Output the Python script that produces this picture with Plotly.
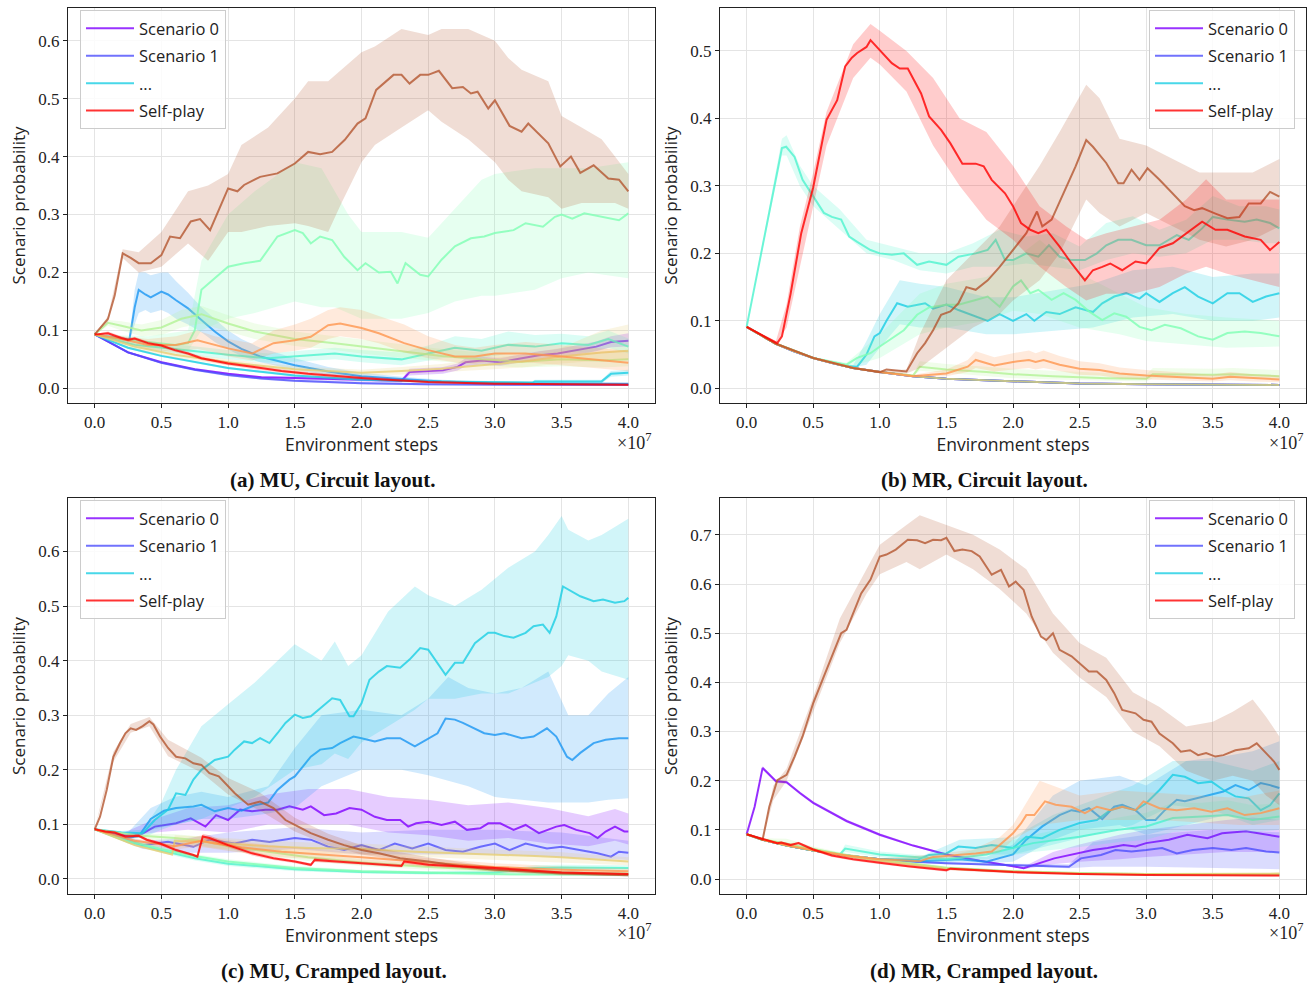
import plotly.graph_objects as go

# ---------------- colours ----------------
SCEN_COLORS = ['#8000ff', '#4d4ffc', '#1a96f3', '#1acee3', '#4df3ce',
               '#80ffb4', '#b3f396', '#e6ce74', '#ff964f', '#b4562f']
SELF_PLAY_COLOR = '#ff0000'

X_TICKS = [0, 0.5, 1.0, 1.5, 2.0, 2.5, 3.0, 3.5, 4.0]
X_TICK_TEXT = ['0.0', '0.5', '1.0', '1.5', '2.0', '2.5', '3.0', '3.5', '4.0']
Y_RANGES = [[-0.0253, 0.6564], [-0.0218, 0.5637], [-0.0275, 0.698], [-0.0305, 0.775]]
CAPTIONS = ['(a) MU, Circuit layout.', '(b) MR, Circuit layout.',
            '(c) MU, Cramped layout.', '(d) MR, Cramped layout.']
LEGEND_NAMES = {0: 'Scenario 0', 1: 'Scenario 1', 3: '...', 'sp': 'Self-play'}

# =============== Panel (a) MU, Circuit ===============
A_S0_X = [0, 0.25, 0.5, 0.75, 1.0, 1.25, 1.5, 1.8, 2.1, 2.3, 2.36, 2.61, 2.72, 2.78, 2.9, 3.04, 3.18, 3.33, 3.47, 3.61, 3.76, 3.87, 4.0]
A_S0_Y = [0.093, 0.062, 0.045, 0.033, 0.025, 0.019, 0.018, 0.016, 0.014, 0.013, 0.028, 0.031, 0.037, 0.045, 0.048, 0.045, 0.051, 0.057, 0.060, 0.066, 0.072, 0.080, 0.082]
A_S0_LO = [0.093, 0.060, 0.043, 0.031, 0.023, 0.017, 0.015, 0.013, 0.011, 0.010, 0.022, 0.025, 0.031, 0.038, 0.041, 0.039, 0.044, 0.050, 0.053, 0.058, 0.064, 0.071, 0.072]
A_S0_HI = [0.093, 0.064, 0.047, 0.035, 0.027, 0.021, 0.021, 0.019, 0.017, 0.016, 0.034, 0.037, 0.043, 0.052, 0.055, 0.052, 0.058, 0.064, 0.068, 0.074, 0.081, 0.090, 0.095]

A_S1_X = [0, 0.25, 0.5, 0.75, 1.0, 1.25, 1.5, 2.0, 2.5, 3.0, 3.5, 4.0]
A_S1_Y = [0.093, 0.062, 0.044, 0.032, 0.023, 0.017, 0.013, 0.009, 0.007, 0.006, 0.006, 0.006]
A_S1_LO = [0.093, 0.060, 0.042, 0.030, 0.021, 0.015, 0.011, 0.007, 0.005, 0.004, 0.004, 0.004]
A_S1_HI = [0.093, 0.064, 0.046, 0.034, 0.025, 0.019, 0.015, 0.011, 0.009, 0.008, 0.008, 0.008]

A_S2_X = [0, 0.1, 0.2, 0.26, 0.3, 0.33, 0.38, 0.42, 0.5, 0.55, 0.61, 0.7, 0.8, 0.9, 1.0, 1.1, 1.24, 1.5, 1.75, 2.0, 2.3, 2.6, 3.0, 3.5, 4.0]
A_S2_Y = [0.093, 0.09, 0.086, 0.084, 0.14, 0.17, 0.162, 0.157, 0.167, 0.162, 0.152, 0.138, 0.118, 0.098, 0.081, 0.068, 0.055, 0.04, 0.029, 0.021, 0.016, 0.012, 0.009, 0.008, 0.008]
A_S2_LO = [0.093, 0.088, 0.083, 0.081, 0.11, 0.13, 0.135, 0.13, 0.135, 0.13, 0.12, 0.11, 0.097, 0.08, 0.067, 0.056, 0.045, 0.032, 0.023, 0.017, 0.013, 0.01, 0.008, 0.007, 0.007]
A_S2_HI = [0.093, 0.092, 0.089, 0.087, 0.17, 0.2, 0.2, 0.195, 0.2, 0.2, 0.185, 0.165, 0.14, 0.12, 0.1, 0.085, 0.07, 0.052, 0.037, 0.027, 0.02, 0.015, 0.011, 0.009, 0.009]

A_S3_X = [0, 0.25, 0.5, 1.0, 1.5, 2.0, 2.5, 3.0, 3.28, 3.3, 3.8, 3.87, 4.0]
A_S3_Y = [0.093, 0.070, 0.056, 0.035, 0.022, 0.015, 0.012, 0.010, 0.010, 0.012, 0.012, 0.025, 0.027]
A_S3_LO = [0.093, 0.068, 0.054, 0.033, 0.020, 0.013, 0.010, 0.008, 0.008, 0.009, 0.009, 0.020, 0.022]
A_S3_HI = [0.093, 0.072, 0.058, 0.037, 0.024, 0.017, 0.014, 0.012, 0.012, 0.015, 0.015, 0.030, 0.032]

A_S4_X = [0, 0.3, 0.6, 1.0, 1.3, 1.5, 1.8, 2.0, 2.3, 2.5, 2.7, 2.9, 3.1, 3.3, 3.5, 3.7, 3.85, 4.0]
A_S4_Y = [0.093, 0.075, 0.068, 0.058, 0.052, 0.055, 0.060, 0.055, 0.050, 0.060, 0.070, 0.065, 0.075, 0.072, 0.078, 0.075, 0.085, 0.072]
A_S4_LO = [0.093, 0.070, 0.060, 0.050, 0.044, 0.046, 0.050, 0.045, 0.040, 0.048, 0.056, 0.052, 0.060, 0.058, 0.064, 0.062, 0.070, 0.060]
A_S4_HI = [0.093, 0.080, 0.076, 0.066, 0.060, 0.064, 0.070, 0.066, 0.062, 0.074, 0.090, 0.085, 0.098, 0.092, 0.094, 0.090, 0.100, 0.086]

A_S5_X = [0, 0.2, 0.4, 0.6, 0.7, 0.75, 0.8, 0.9, 1.0, 1.12, 1.24, 1.37, 1.5, 1.56, 1.62, 1.69, 1.78, 1.87, 1.97, 2.03,
          2.13, 2.22, 2.27, 2.33, 2.44, 2.5, 2.6, 2.7, 2.82, 2.92, 3.0, 3.14, 3.23, 3.36, 3.45, 3.5, 3.58, 3.67, 3.8, 3.93, 4.0]
A_S5_Y = [0.093, 0.085, 0.08, 0.075, 0.078, 0.1, 0.17, 0.19, 0.21, 0.216, 0.22, 0.262, 0.273, 0.268, 0.25, 0.262, 0.256, 0.227, 0.204, 0.216,
          0.2, 0.201, 0.181, 0.216, 0.196, 0.193, 0.222, 0.245, 0.259, 0.262, 0.268, 0.273, 0.285, 0.279, 0.296, 0.3, 0.293, 0.302, 0.296, 0.29, 0.302]
A_S5_BX = [0, 0.4, 0.7, 0.8, 0.9, 1.0, 1.2, 1.5, 1.7, 1.8, 1.9, 2.0, 2.3, 2.5, 2.7, 2.9, 3.0, 3.3, 3.5, 3.7, 4.0]
A_S5_LO = [0.093, 0.07, 0.065, 0.10, 0.11, 0.12, 0.13, 0.15, 0.14, 0.14, 0.13, 0.12, 0.12, 0.13, 0.15, 0.16, 0.16, 0.17, 0.19, 0.20, 0.19]
A_S5_HI = [0.093, 0.09, 0.10, 0.22, 0.26, 0.30, 0.34, 0.39, 0.38, 0.34, 0.30, 0.27, 0.27, 0.26, 0.31, 0.36, 0.37, 0.38, 0.38, 0.38, 0.39]

A_S6_X = [0, 0.1, 0.2, 0.35, 0.5, 0.65, 0.8, 1.0, 1.2, 1.5, 1.8, 2.0, 2.3, 2.6, 2.9, 3.2, 3.5, 3.8, 4.0]
A_S6_Y = [0.093, 0.113, 0.108, 0.100, 0.105, 0.120, 0.128, 0.112, 0.098, 0.085, 0.078, 0.072, 0.064, 0.056, 0.050, 0.046, 0.050, 0.048, 0.050]
A_S6_LO = [0.093, 0.108, 0.100, 0.090, 0.092, 0.105, 0.112, 0.098, 0.085, 0.073, 0.066, 0.060, 0.053, 0.046, 0.040, 0.036, 0.038, 0.036, 0.038]
A_S6_HI = [0.093, 0.118, 0.116, 0.110, 0.118, 0.135, 0.142, 0.126, 0.112, 0.098, 0.090, 0.084, 0.076, 0.068, 0.062, 0.058, 0.064, 0.062, 0.064]

A_S7_X = [0, 0.3, 0.6, 1.0, 1.5, 2.0, 2.3, 2.6, 2.9, 3.2, 3.5, 3.8, 4.0]
A_S7_Y = [0.093, 0.072, 0.058, 0.045, 0.033, 0.027, 0.030, 0.034, 0.040, 0.046, 0.055, 0.062, 0.065]
A_S7_LO = [0.093, 0.068, 0.053, 0.040, 0.028, 0.022, 0.024, 0.027, 0.032, 0.036, 0.043, 0.048, 0.050]
A_S7_HI = [0.093, 0.076, 0.063, 0.050, 0.038, 0.032, 0.037, 0.042, 0.050, 0.058, 0.070, 0.100, 0.110]

A_S8_X = [0, 0.2, 0.4, 0.5, 0.61, 0.77, 0.9, 1.0, 1.18, 1.34, 1.5, 1.62, 1.75, 1.84, 2.0, 2.13, 2.32, 2.5, 2.7, 2.85, 3.0, 3.23, 3.5, 3.77, 4.0]
A_S8_Y = [0.093, 0.085, 0.075, 0.075, 0.075, 0.083, 0.075, 0.069, 0.06, 0.078, 0.083, 0.089, 0.109, 0.112, 0.104, 0.095, 0.078, 0.066, 0.055, 0.055, 0.06, 0.06, 0.055, 0.049, 0.044]
A_S8_LO = [0.093, 0.08, 0.068, 0.065, 0.063, 0.068, 0.062, 0.055, 0.048, 0.06, 0.065, 0.07, 0.085, 0.09, 0.085, 0.078, 0.062, 0.052, 0.045, 0.043, 0.047, 0.045, 0.04, 0.035, 0.03]
A_S8_HI = [0.093, 0.09, 0.085, 0.088, 0.09, 0.1, 0.09, 0.085, 0.078, 0.1, 0.11, 0.12, 0.135, 0.14, 0.135, 0.125, 0.11, 0.09, 0.075, 0.07, 0.075, 0.08, 0.075, 0.07, 0.065]

A_S9_X = [0, 0.1, 0.15, 0.21, 0.27, 0.33, 0.42, 0.5, 0.565, 0.64, 0.72, 0.79, 0.865, 0.96, 1.0, 1.07, 1.12, 1.24, 1.31, 1.37,
          1.5, 1.6, 1.69, 1.78, 1.875, 1.97, 2.03, 2.11, 2.24, 2.3, 2.36, 2.44, 2.5, 2.58, 2.68, 2.76, 2.82, 2.87, 2.95, 3.0,
          3.11, 3.2, 3.25, 3.4, 3.49, 3.57, 3.64, 3.74, 3.85, 3.93, 4.0]
A_S9_Y = [0.093, 0.12, 0.16, 0.233, 0.225, 0.216, 0.216, 0.23, 0.262, 0.259, 0.288, 0.292, 0.273, 0.325, 0.345, 0.34, 0.351, 0.365, 0.368, 0.371,
          0.388, 0.408, 0.404, 0.408, 0.429, 0.457, 0.466, 0.515, 0.541, 0.541, 0.526, 0.541, 0.541, 0.548, 0.518, 0.52, 0.509, 0.512, 0.483, 0.497,
          0.453, 0.443, 0.457, 0.423, 0.383, 0.4, 0.372, 0.385, 0.362, 0.36, 0.34]
A_S9_BX = [0, 0.1, 0.21, 0.33, 0.5, 0.7, 0.85, 1.0, 1.1, 1.3, 1.5, 1.6, 1.75, 1.85, 2.0, 2.1, 2.3, 2.5, 2.6, 2.8, 3.0, 3.1, 3.2, 3.4, 3.5, 3.65, 3.8, 3.9, 4.0]
A_S9_LO = [0.093, 0.115, 0.225, 0.20, 0.21, 0.25, 0.22, 0.27, 0.27, 0.28, 0.285, 0.28, 0.27, 0.32, 0.39, 0.42, 0.45, 0.48, 0.46, 0.43, 0.39, 0.36, 0.34, 0.33, 0.31, 0.32, 0.32, 0.32, 0.31]
A_S9_HI = [0.093, 0.125, 0.24, 0.235, 0.27, 0.34, 0.35, 0.37, 0.42, 0.45, 0.50, 0.53, 0.53, 0.55, 0.58, 0.59, 0.62, 0.61, 0.62, 0.62, 0.60, 0.57, 0.55, 0.53, 0.47, 0.45, 0.43, 0.40, 0.37]

A_SP_X = [0, 0.1, 0.2, 0.25, 0.3, 0.4, 0.5, 0.6, 0.7, 0.8, 1.0, 1.2, 1.4, 1.6, 1.8, 2.0, 2.2, 2.5, 3.0, 3.5, 4.0]
A_SP_Y = [0.093, 0.095, 0.087, 0.084, 0.086, 0.078, 0.074, 0.066, 0.06, 0.052, 0.043, 0.036, 0.03, 0.025, 0.021, 0.018, 0.015, 0.011, 0.008, 0.007, 0.006]
A_SP_LO = [0.093, 0.092, 0.084, 0.081, 0.083, 0.075, 0.071, 0.063, 0.057, 0.049, 0.04, 0.033, 0.027, 0.022, 0.018, 0.015, 0.012, 0.009, 0.006, 0.005, 0.004]
A_SP_HI = [0.093, 0.098, 0.09, 0.087, 0.089, 0.081, 0.077, 0.069, 0.063, 0.055, 0.046, 0.039, 0.033, 0.028, 0.024, 0.021, 0.018, 0.013, 0.01, 0.009, 0.008]

# =============== Panel (b) MR, Circuit ===============
B_BASE_X = [0, 0.22, 0.35, 0.5, 0.65, 0.8, 1.0, 1.25, 1.5, 2.0, 2.5, 3.0, 3.5, 4.0]
B_BASE_Y = [0.091, 0.066, 0.055, 0.045, 0.037, 0.030, 0.024, 0.018, 0.014, 0.010, 0.007, 0.006, 0.005, 0.005]
B_BASE_LO = [0.091, 0.065, 0.054, 0.044, 0.036, 0.029, 0.023, 0.017, 0.013, 0.009, 0.006, 0.005, 0.004, 0.004]
B_BASE_HI = [0.091, 0.067, 0.056, 0.046, 0.038, 0.031, 0.025, 0.019, 0.015, 0.011, 0.008, 0.007, 0.006, 0.006]

B_S3_X = [0, 0.22, 0.5, 0.75, 0.83, 0.9, 0.96, 1.0, 1.05, 1.13, 1.21, 1.34, 1.4, 1.5, 1.59, 1.72, 1.81, 1.9, 2.0, 2.1,
          2.16, 2.25, 2.35, 2.47, 2.6, 2.67, 2.76, 2.85, 2.95, 3.0, 3.1, 3.2, 3.29, 3.39, 3.5, 3.61, 3.7, 3.8, 3.9, 4.0]
B_S3_Y = [0.091, 0.066, 0.045, 0.033, 0.032, 0.05, 0.077, 0.082, 0.10, 0.126, 0.121, 0.126, 0.118, 0.124, 0.116, 0.106, 0.10, 0.11, 0.10, 0.11,
          0.10, 0.113, 0.11, 0.12, 0.113, 0.126, 0.136, 0.141, 0.133, 0.141, 0.128, 0.141, 0.15, 0.136, 0.126, 0.141, 0.141, 0.128, 0.136, 0.141]
B_S3_BX = [0, 0.22, 0.5, 0.8, 0.9, 1.0, 1.15, 1.3, 1.5, 1.8, 2.0, 2.3, 2.6, 2.9, 3.2, 3.5, 3.8, 4.0]
B_S3_LO = [0.091, 0.065, 0.044, 0.031, 0.035, 0.06, 0.095, 0.09, 0.09, 0.08, 0.08, 0.085, 0.09, 0.105, 0.11, 0.10, 0.10, 0.105]
B_S3_HI = [0.091, 0.067, 0.046, 0.034, 0.07, 0.11, 0.16, 0.155, 0.15, 0.135, 0.135, 0.145, 0.155, 0.175, 0.18, 0.165, 0.17, 0.17]

B_S4_X = [0, 0.265, 0.297, 0.36, 0.42, 0.5, 0.58, 0.64, 0.71, 0.77, 0.83, 0.93, 1.0, 1.09, 1.18, 1.28, 1.37, 1.5, 1.59, 1.72,
          1.81, 1.87, 1.94, 2.0, 2.1, 2.19, 2.27, 2.35, 2.44, 2.54, 2.63, 2.7, 2.79, 2.89, 3.0, 3.1, 3.23, 3.32, 3.42, 3.5,
          3.61, 3.74, 3.83, 3.93, 4.0]
B_S4_Y = [0.091, 0.356, 0.358, 0.343, 0.309, 0.284, 0.26, 0.254, 0.25, 0.225, 0.217, 0.205, 0.2, 0.198, 0.2, 0.183, 0.188, 0.183, 0.195, 0.2,
          0.205, 0.22, 0.19, 0.19, 0.2, 0.195, 0.212, 0.195, 0.19, 0.19, 0.2, 0.212, 0.22, 0.22, 0.212, 0.212, 0.227, 0.22, 0.237, 0.254,
          0.25, 0.247, 0.25, 0.245, 0.237]
B_S4_BX = [0, 0.265, 0.3, 0.4, 0.5, 0.7, 0.9, 1.1, 1.3, 1.5, 1.7, 1.9, 2.1, 2.3, 2.5, 2.7, 2.9, 3.1, 3.3, 3.5, 3.7, 3.9, 4.0]
B_S4_LO = [0.091, 0.345, 0.345, 0.30, 0.27, 0.235, 0.20, 0.19, 0.175, 0.17, 0.18, 0.18, 0.185, 0.18, 0.175, 0.19, 0.20, 0.195, 0.20, 0.22, 0.22, 0.215, 0.215]
B_S4_HI = [0.091, 0.37, 0.375, 0.33, 0.30, 0.265, 0.22, 0.21, 0.20, 0.20, 0.215, 0.235, 0.225, 0.23, 0.21, 0.245, 0.255, 0.235, 0.25, 0.285, 0.27, 0.27, 0.265]

B_S5_X = [0, 0.22, 0.5, 0.75, 0.83, 0.93, 1.0, 1.09, 1.18, 1.28, 1.37, 1.5, 1.59, 1.72, 1.81, 1.9, 2.0, 2.06, 2.13, 2.19,
          2.29, 2.38, 2.47, 2.57, 2.67, 2.76, 2.85, 2.95, 3.04, 3.14, 3.26, 3.39, 3.5, 3.61, 3.74, 3.86, 4.0]
B_S5_Y = [0.091, 0.066, 0.045, 0.035, 0.045, 0.052, 0.062, 0.074, 0.086, 0.109, 0.12, 0.124, 0.124, 0.131, 0.136, 0.121, 0.151, 0.16, 0.141, 0.146,
          0.131, 0.141, 0.131, 0.114, 0.101, 0.111, 0.106, 0.091, 0.086, 0.094, 0.089, 0.077, 0.072, 0.082, 0.084, 0.082, 0.077]
B_S5_BX = [0, 0.22, 0.5, 0.75, 1.0, 1.3, 1.5, 1.8, 2.0, 2.2, 2.5, 2.8, 3.0, 3.3, 3.6, 4.0]
B_S5_LO = [0.091, 0.065, 0.044, 0.031, 0.045, 0.08, 0.09, 0.1, 0.115, 0.11, 0.09, 0.08, 0.07, 0.065, 0.06, 0.062]
B_S5_HI = [0.091, 0.067, 0.046, 0.038, 0.08, 0.14, 0.155, 0.165, 0.19, 0.22, 0.17, 0.14, 0.12, 0.11, 0.105, 0.1]

B_S6_X = [0, 0.22, 0.5, 0.8, 1.0, 1.25, 1.3, 1.5, 1.8, 2.0, 2.3, 2.7, 3.0, 3.05, 3.5, 3.65, 4.0]
B_S6_Y = [0.091, 0.066, 0.045, 0.030, 0.024, 0.019, 0.032, 0.028, 0.024, 0.021, 0.018, 0.015, 0.014, 0.021, 0.02, 0.021, 0.018]
B_S6_LO = [0.091, 0.065, 0.044, 0.029, 0.023, 0.018, 0.026, 0.022, 0.018, 0.015, 0.013, 0.011, 0.01, 0.015, 0.014, 0.015, 0.013]
B_S6_HI = [0.091, 0.067, 0.046, 0.031, 0.025, 0.021, 0.04, 0.036, 0.032, 0.029, 0.026, 0.022, 0.02, 0.03, 0.029, 0.03, 0.027]

B_S8_X = [0, 0.22, 0.5, 0.8, 1.0, 1.25, 1.5, 1.66, 1.72, 1.86, 2.0, 2.12, 2.17, 2.23, 2.35, 2.5, 2.65, 2.8, 3.0, 3.25, 3.5, 3.63, 3.8, 4.0]
B_S8_Y = [0.091, 0.066, 0.045, 0.030, 0.024, 0.018, 0.022, 0.032, 0.042, 0.034, 0.039, 0.042, 0.039, 0.042, 0.035, 0.029, 0.027, 0.022, 0.019, 0.016, 0.014, 0.017, 0.015, 0.013]
B_S8_LO = [0.091, 0.065, 0.044, 0.029, 0.023, 0.017, 0.018, 0.024, 0.03, 0.025, 0.028, 0.03, 0.028, 0.03, 0.025, 0.02, 0.019, 0.015, 0.013, 0.011, 0.01, 0.012, 0.01, 0.009]
B_S8_HI = [0.091, 0.067, 0.046, 0.031, 0.025, 0.02, 0.028, 0.042, 0.055, 0.046, 0.052, 0.056, 0.052, 0.056, 0.048, 0.04, 0.037, 0.031, 0.027, 0.023, 0.02, 0.024, 0.021, 0.019]

B_S9_X = [0, 0.22, 0.5, 0.8, 1.0, 1.05, 1.2, 1.28, 1.34, 1.4, 1.46, 1.53, 1.59, 1.65, 1.72, 1.81, 1.9, 2.0, 2.1, 2.18,
          2.22, 2.29, 2.38, 2.47, 2.55, 2.6, 2.7, 2.79, 2.83, 2.89, 2.95, 3.01, 3.1, 3.2, 3.29, 3.36, 3.42, 3.52, 3.61, 3.7,
          3.77, 3.86, 3.93, 4.0]
B_S9_Y = [0.091, 0.066, 0.045, 0.030, 0.024, 0.028, 0.025, 0.052, 0.067, 0.086, 0.109, 0.114, 0.126, 0.15, 0.146, 0.16, 0.18, 0.205, 0.23, 0.262,
          0.24, 0.25, 0.289, 0.329, 0.368, 0.358, 0.334, 0.304, 0.304, 0.324, 0.309, 0.326, 0.309, 0.289, 0.27, 0.264, 0.267, 0.259, 0.252, 0.254,
          0.274, 0.274, 0.291, 0.284]
B_S9_BX = [0, 0.22, 0.5, 0.8, 1.0, 1.2, 1.3, 1.4, 1.5, 1.7, 1.9, 2.0, 2.2, 2.35, 2.55, 2.65, 2.8, 3.0, 3.2, 3.4, 3.6, 3.8, 4.0]
B_S9_LO = [0.091, 0.065, 0.044, 0.029, 0.022, 0.022, 0.03, 0.045, 0.06, 0.09, 0.11, 0.13, 0.16, 0.2, 0.28, 0.26, 0.24, 0.26, 0.24, 0.22, 0.21, 0.22, 0.24]
B_S9_HI = [0.091, 0.067, 0.046, 0.031, 0.026, 0.028, 0.08, 0.12, 0.16, 0.2, 0.24, 0.27, 0.33, 0.38, 0.45, 0.43, 0.37, 0.36, 0.34, 0.32, 0.32, 0.32, 0.34]

B_SP_X = [0, 0.23, 0.265, 0.33, 0.41, 0.5, 0.6, 0.68, 0.74, 0.79, 0.83, 0.9, 0.93, 1.0, 1.09, 1.15, 1.21, 1.31, 1.37, 1.46,
          1.53, 1.62, 1.72, 1.78, 1.84, 1.94, 2.0, 2.06, 2.13, 2.19, 2.25, 2.35, 2.44, 2.54, 2.6, 2.67, 2.73, 2.82, 2.92, 3.0,
          3.1, 3.2, 3.3, 3.42, 3.52, 3.61, 3.74, 3.86, 3.93, 4.0]
B_SP_Y = [0.091, 0.067, 0.077, 0.14, 0.23, 0.298, 0.398, 0.427, 0.477, 0.49, 0.497, 0.506, 0.516, 0.501, 0.482, 0.474, 0.474, 0.437, 0.403, 0.383,
          0.363, 0.333, 0.333, 0.329, 0.309, 0.289, 0.27, 0.245, 0.235, 0.23, 0.235, 0.21, 0.185, 0.16, 0.175, 0.18, 0.185, 0.175, 0.188, 0.185,
          0.208, 0.215, 0.23, 0.247, 0.235, 0.235, 0.225, 0.22, 0.205, 0.217]
B_SP_BX = [0, 0.22, 0.3, 0.4, 0.5, 0.6, 0.7, 0.8, 0.93, 1.0, 1.2, 1.4, 1.6, 1.8, 2.0, 2.2, 2.4, 2.55, 2.7, 2.9, 3.1, 3.3, 3.45, 3.6, 3.8, 4.0]
B_SP_LO = [0.091, 0.065, 0.09, 0.18, 0.27, 0.36, 0.41, 0.46, 0.49, 0.48, 0.44, 0.36, 0.3, 0.25, 0.22, 0.18, 0.15, 0.13, 0.14, 0.14, 0.15, 0.17, 0.18, 0.17, 0.16, 0.15]
B_SP_HI = [0.091, 0.07, 0.125, 0.24, 0.32, 0.41, 0.46, 0.51, 0.54, 0.53, 0.50, 0.46, 0.40, 0.38, 0.33, 0.27, 0.24, 0.22, 0.23, 0.24, 0.25, 0.28, 0.31, 0.28, 0.28, 0.28]

# =============== Panel (c) MU, Cramped ===============
C_S0_X = [0, 0.2, 0.35, 0.45, 0.61, 0.72, 0.83, 0.91, 1.0, 1.09, 1.18, 1.28, 1.37, 1.46, 1.56, 1.62, 1.72, 1.81, 1.91, 2.0,
          2.1, 2.19, 2.29, 2.35, 2.41, 2.5, 2.6, 2.7, 2.79, 2.89, 2.95, 3.04, 3.14, 3.23, 3.33, 3.39, 3.46, 3.52, 3.61, 3.71,
          3.77, 3.83, 3.9, 3.97, 4.0]
C_S0_Y = [0.091, 0.08, 0.082, 0.096, 0.102, 0.111, 0.096, 0.117, 0.108, 0.127, 0.124, 0.127, 0.127, 0.133, 0.127, 0.133, 0.117, 0.12, 0.13, 0.127,
          0.114, 0.108, 0.108, 0.096, 0.102, 0.105, 0.099, 0.105, 0.09, 0.093, 0.102, 0.102, 0.09, 0.099, 0.084, 0.09, 0.096, 0.099, 0.09, 0.084,
          0.075, 0.087, 0.096, 0.087, 0.087]
C_S0_BX = [0, 0.2, 0.45, 0.7, 1.0, 1.3, 1.6, 1.9, 2.2, 2.5, 2.8, 3.1, 3.4, 3.7, 3.9, 4.0]
C_S0_LO = [0.091, 0.077, 0.085, 0.09, 0.085, 0.1, 0.1, 0.1, 0.085, 0.08, 0.07, 0.075, 0.065, 0.06, 0.07, 0.063]
C_S0_HI = [0.091, 0.083, 0.11, 0.13, 0.135, 0.155, 0.165, 0.165, 0.15, 0.145, 0.135, 0.14, 0.13, 0.115, 0.128, 0.12]

C_S1_X = [0, 0.2, 0.36, 0.55, 0.74, 0.86, 1.05, 1.18, 1.31, 1.5, 1.62, 1.75, 1.87, 2.0, 2.13, 2.25, 2.38, 2.5, 2.63, 2.76,
          2.89, 3.0, 3.11, 3.23, 3.39, 3.5, 3.64, 3.77, 3.87, 3.93, 4.0]
C_S1_Y = [0.091, 0.075, 0.062, 0.068, 0.059, 0.072, 0.065, 0.072, 0.068, 0.075, 0.072, 0.059, 0.053, 0.062, 0.053, 0.065, 0.056, 0.065, 0.053, 0.05,
          0.059, 0.065, 0.053, 0.065, 0.056, 0.059, 0.053, 0.047, 0.041, 0.05, 0.048]
C_S1_BX = [0, 0.36, 0.7, 1.0, 1.5, 2.0, 2.5, 3.0, 3.5, 4.0]
C_S1_LO = [0.091, 0.055, 0.048, 0.048, 0.055, 0.045, 0.045, 0.045, 0.04, 0.035]
C_S1_HI = [0.091, 0.07, 0.075, 0.085, 0.095, 0.085, 0.09, 0.09, 0.085, 0.07]

C_S2_X = [0, 0.23, 0.33, 0.42, 0.52, 0.61, 0.74, 0.8, 0.9, 1.0, 1.1, 1.2, 1.3, 1.37, 1.46, 1.5, 1.56, 1.62, 1.69, 1.78,
          1.84, 1.94, 2.0, 2.1, 2.19, 2.29, 2.4, 2.48, 2.57, 2.63, 2.7, 2.76, 2.85, 2.92, 3.0, 3.07, 3.2, 3.29, 3.39, 3.46,
          3.54, 3.58, 3.64, 3.74, 3.83, 3.93, 4.0]
C_S2_Y = [0.091, 0.075, 0.078, 0.11, 0.125, 0.13, 0.133, 0.136, 0.124, 0.13, 0.125, 0.135, 0.14, 0.163, 0.182, 0.188, 0.206, 0.224, 0.237, 0.24,
          0.249, 0.261, 0.258, 0.252, 0.258, 0.258, 0.243, 0.255, 0.267, 0.294, 0.292, 0.286, 0.276, 0.267, 0.264, 0.267, 0.258, 0.261, 0.276, 0.261,
          0.224, 0.218, 0.231, 0.249, 0.255, 0.258, 0.258]
C_S2_BX = [0, 0.23, 0.42, 0.6, 0.8, 1.0, 1.3, 1.5, 1.7, 2.0, 2.3, 2.5, 2.65, 2.8, 3.0, 3.2, 3.4, 3.55, 3.7, 3.85, 4.0]
C_S2_LO = [0.091, 0.07, 0.09, 0.1, 0.11, 0.11, 0.12, 0.13, 0.17, 0.2, 0.2, 0.19, 0.18, 0.17, 0.15, 0.145, 0.14, 0.14, 0.14, 0.145, 0.148]
C_S2_HI = [0.091, 0.08, 0.13, 0.15, 0.16, 0.15, 0.17, 0.24, 0.30, 0.31, 0.30, 0.33, 0.37, 0.35, 0.34, 0.35, 0.38, 0.30, 0.30, 0.34, 0.37]

C_S3_X = [0, 0.2, 0.36, 0.45, 0.55, 0.61, 0.68, 0.74, 0.8, 0.9, 1.0, 1.05, 1.12, 1.18, 1.24, 1.31, 1.37, 1.43, 1.5, 1.56,
          1.62, 1.69, 1.78, 1.84, 1.91, 1.94, 2.0, 2.06, 2.13, 2.19, 2.29, 2.36, 2.44, 2.5, 2.57, 2.63, 2.7, 2.76, 2.85, 2.95,
          3.0, 3.07, 3.14, 3.23, 3.29, 3.36, 3.41, 3.46, 3.51, 3.55, 3.64, 3.74, 3.81, 3.9, 3.97, 4.0]
C_S3_Y = [0.091, 0.085, 0.084, 0.108, 0.127, 0.157, 0.154, 0.182, 0.2, 0.218, 0.224, 0.237, 0.252, 0.249, 0.258, 0.249, 0.267, 0.286, 0.301, 0.295,
          0.298, 0.313, 0.331, 0.328, 0.298, 0.298, 0.322, 0.365, 0.38, 0.39, 0.387, 0.402, 0.423, 0.42, 0.396, 0.374, 0.396, 0.396, 0.432, 0.451,
          0.451, 0.445, 0.442, 0.451, 0.463, 0.466, 0.451, 0.481, 0.536, 0.53, 0.518, 0.509, 0.512, 0.506, 0.509, 0.515]
C_S3_BX = [0, 0.2, 0.36, 0.5, 0.61, 0.8, 1.0, 1.2, 1.5, 1.7, 1.8, 1.9, 2.0, 2.2, 2.4, 2.5, 2.7, 2.9, 3.1, 3.3, 3.4, 3.5, 3.55, 3.7, 3.8, 4.0]
C_S3_LO = [0.091, 0.083, 0.075, 0.09, 0.10, 0.11, 0.13, 0.15, 0.2, 0.21, 0.23, 0.22, 0.25, 0.28, 0.31, 0.33, 0.33, 0.34, 0.34, 0.36, 0.37, 0.39, 0.41, 0.40, 0.38, 0.365]
C_S3_HI = [0.091, 0.088, 0.09, 0.14, 0.2, 0.28, 0.32, 0.36, 0.43, 0.40, 0.435, 0.39, 0.41, 0.49, 0.536, 0.52, 0.50, 0.53, 0.57, 0.60, 0.63, 0.665, 0.64, 0.62, 0.63, 0.66]

C_S4_X = [0, 0.25, 0.5, 0.75, 1.0, 1.5, 2.0, 2.5, 3.0, 3.3, 3.5, 4.0]
C_S4_Y = [0.091, 0.068, 0.052, 0.038, 0.028, 0.018, 0.013, 0.011, 0.012, 0.02, 0.021, 0.02]
C_S4_LO = [0.091, 0.065, 0.048, 0.034, 0.024, 0.014, 0.01, 0.008, 0.009, 0.015, 0.016, 0.015]
C_S4_HI = [0.091, 0.071, 0.056, 0.042, 0.032, 0.022, 0.016, 0.014, 0.015, 0.025, 0.026, 0.025]

C_S5_X = [0, 0.25, 0.5, 0.75, 1.0, 1.5, 2.0, 2.5, 3.0, 3.5, 4.0]
C_S5_Y = [0.091, 0.07, 0.055, 0.042, 0.032, 0.02, 0.014, 0.011, 0.009, 0.008, 0.008]
C_S5_LO = [0.091, 0.067, 0.051, 0.038, 0.028, 0.016, 0.011, 0.008, 0.006, 0.005, 0.005]
C_S5_HI = [0.091, 0.073, 0.059, 0.046, 0.036, 0.024, 0.017, 0.014, 0.012, 0.011, 0.011]

C_S6_X = [0, 0.3, 0.6, 0.8, 1.0, 1.3, 1.6, 2.0, 2.5, 3.0, 3.5, 4.0]
C_S6_Y = [0.091, 0.08, 0.075, 0.07, 0.06, 0.05, 0.04, 0.03, 0.022, 0.016, 0.012, 0.01]
C_S6_LO = [0.091, 0.076, 0.068, 0.062, 0.052, 0.042, 0.033, 0.024, 0.017, 0.012, 0.009, 0.007]
C_S6_HI = [0.091, 0.084, 0.082, 0.078, 0.068, 0.058, 0.047, 0.036, 0.027, 0.02, 0.015, 0.013]

C_S7_X = [0, 0.3, 0.58, 0.6, 0.8, 1.0, 1.3, 1.6, 2.0, 2.4, 2.8, 3.0, 3.3, 3.5, 3.8, 4.0]
C_S7_Y = [0.091, 0.062, 0.045, 0.07, 0.068, 0.065, 0.06, 0.057, 0.055, 0.05, 0.047, 0.045, 0.042, 0.04, 0.035, 0.032]
C_S7_LO = [0.091, 0.06, 0.043, 0.06, 0.058, 0.055, 0.05, 0.047, 0.045, 0.041, 0.038, 0.036, 0.033, 0.031, 0.027, 0.025]
C_S7_HI = [0.091, 0.064, 0.047, 0.08, 0.078, 0.075, 0.07, 0.067, 0.065, 0.06, 0.056, 0.054, 0.051, 0.049, 0.043, 0.04]

C_S8_X = [0, 0.3, 0.6, 0.8, 0.9, 1.1, 1.4, 1.7, 2.0, 2.5, 3.0, 3.5, 4.0]
C_S8_Y = [0.091, 0.07, 0.06, 0.07, 0.065, 0.058, 0.05, 0.045, 0.04, 0.03, 0.022, 0.017, 0.014]
C_S8_LO = [0.091, 0.066, 0.054, 0.06, 0.055, 0.048, 0.04, 0.035, 0.031, 0.022, 0.015, 0.011, 0.009]
C_S8_HI = [0.091, 0.074, 0.066, 0.08, 0.075, 0.068, 0.06, 0.055, 0.049, 0.038, 0.029, 0.023, 0.019]

C_S9_X = [0, 0.04, 0.09, 0.14, 0.19, 0.23, 0.27, 0.31, 0.36, 0.41, 0.44, 0.49, 0.55, 0.61, 0.68, 0.74, 0.8, 0.86, 0.93, 1.0,
          1.05, 1.15, 1.24, 1.34, 1.43, 1.5, 1.62, 1.75, 1.87, 2.0, 2.13, 2.29, 2.5, 2.76, 3.0, 3.5, 4.0]
C_S9_Y = [0.091, 0.114, 0.163, 0.224, 0.249, 0.267, 0.276, 0.273, 0.28, 0.289, 0.283, 0.261, 0.24, 0.224, 0.221, 0.212, 0.209, 0.194, 0.188, 0.169,
          0.157, 0.136, 0.142, 0.13, 0.108, 0.099, 0.084, 0.072, 0.062, 0.053, 0.047, 0.038, 0.032, 0.023, 0.017, 0.010, 0.007]
C_S9_BX = [0, 0.14, 0.27, 0.41, 0.55, 0.8, 1.0, 1.24, 1.5, 1.75, 2.0, 2.5, 3.0, 3.5, 4.0]
C_S9_LO = [0.091, 0.215, 0.268, 0.28, 0.225, 0.195, 0.155, 0.125, 0.087, 0.062, 0.045, 0.026, 0.013, 0.007, 0.005]
C_S9_HI = [0.091, 0.233, 0.284, 0.297, 0.255, 0.222, 0.185, 0.158, 0.112, 0.083, 0.062, 0.04, 0.022, 0.014, 0.01]

C_SP_X = [0, 0.08, 0.15, 0.23, 0.33, 0.39, 0.49, 0.61, 0.74, 0.77, 0.81, 0.86, 1.0, 1.18, 1.34, 1.5, 1.62, 1.65, 1.81, 2.0,
          2.3, 2.32, 2.5, 2.76, 3.0, 3.5, 4.0]
C_SP_Y = [0.091, 0.087, 0.085, 0.078, 0.079, 0.072, 0.065, 0.053, 0.044, 0.041, 0.078, 0.075, 0.062, 0.047, 0.038, 0.032, 0.026, 0.035, 0.032, 0.029,
          0.024, 0.032, 0.026, 0.023, 0.02, 0.012, 0.009]
C_SP_LO = [0.091, 0.084, 0.082, 0.075, 0.076, 0.069, 0.062, 0.05, 0.041, 0.038, 0.072, 0.07, 0.058, 0.043, 0.035, 0.029, 0.023, 0.031, 0.029, 0.026,
           0.021, 0.028, 0.023, 0.02, 0.017, 0.01, 0.007]
C_SP_HI = [0.091, 0.09, 0.088, 0.081, 0.082, 0.075, 0.068, 0.056, 0.047, 0.044, 0.083, 0.08, 0.066, 0.051, 0.041, 0.035, 0.029, 0.039, 0.035, 0.032,
           0.027, 0.036, 0.029, 0.026, 0.023, 0.014, 0.011]

# =============== Panel (d) MR, Cramped ===============
D_S0_X = [0, 0.06, 0.12, 0.22, 0.3, 0.4, 0.5, 0.75, 1.0, 1.25, 1.5, 1.75, 2.0, 2.08, 2.31, 2.49, 2.6, 2.71, 2.83, 2.92,
          3.0, 3.17, 3.31, 3.46, 3.57, 3.75, 3.9, 4.0]
D_S0_Y = [0.091, 0.147, 0.226, 0.199, 0.197, 0.175, 0.155, 0.118, 0.09, 0.068, 0.05, 0.037, 0.026, 0.022, 0.042, 0.052, 0.059, 0.063, 0.069, 0.066,
          0.073, 0.08, 0.09, 0.083, 0.093, 0.097, 0.09, 0.086]
D_S0_BX = [0, 0.06, 0.12, 0.22, 0.3, 0.4, 0.5, 0.75, 1.0, 1.25, 1.5, 1.75, 2.0, 2.08, 2.3, 2.5, 2.8, 3.0, 3.3, 3.6, 3.8, 4.0]
D_S0_LO = [0.091, 0.144, 0.222, 0.196, 0.194, 0.172, 0.152, 0.115, 0.087, 0.066, 0.048, 0.035, 0.024, 0.02, 0.03, 0.035, 0.04, 0.045, 0.05, 0.055, 0.055, 0.055]
D_S0_HI = [0.091, 0.15, 0.23, 0.202, 0.2, 0.178, 0.158, 0.121, 0.093, 0.07, 0.052, 0.039, 0.028, 0.025, 0.055, 0.07, 0.09, 0.1, 0.11, 0.12, 0.125, 0.12]

D_S1_X = [0, 0.12, 0.3, 0.5, 0.75, 1.0, 1.25, 1.5, 2.0, 2.42, 2.51, 2.66, 2.77, 2.89, 3.0, 3.12, 3.23, 3.35, 3.5, 3.64, 3.75, 3.9, 4.0]
D_S1_Y = [0.091, 0.08, 0.068, 0.058, 0.048, 0.04, 0.035, 0.032, 0.028, 0.025, 0.042, 0.049, 0.059, 0.056, 0.059, 0.063, 0.052, 0.059, 0.063, 0.059, 0.063, 0.056, 0.054]
D_S1_BX = [0, 0.12, 0.3, 0.5, 0.75, 1.0, 1.5, 2.0, 2.42, 2.6, 3.0, 3.5, 4.0]
D_S1_LO = [0.091, 0.078, 0.066, 0.056, 0.046, 0.038, 0.03, 0.026, 0.022, 0.025, 0.025, 0.022, 0.02]
D_S1_HI = [0.091, 0.082, 0.07, 0.06, 0.05, 0.042, 0.035, 0.031, 0.03, 0.075, 0.09, 0.1, 0.095]

D_S2_X = [0, 0.12, 0.3, 0.5, 0.75, 1.0, 1.3, 1.6, 1.8, 2.0, 2.1, 2.22, 2.35, 2.44, 2.5, 2.57, 2.67, 2.76, 2.82, 2.92,
          3.0, 3.07, 3.14, 3.23, 3.29, 3.39, 3.49, 3.58, 3.67, 3.77, 3.86, 3.93, 4.0]
D_S2_Y = [0.091, 0.08, 0.068, 0.058, 0.048, 0.04, 0.036, 0.04, 0.035, 0.05, 0.08, 0.107, 0.13, 0.14, 0.137, 0.144, 0.122, 0.147, 0.151, 0.14,
          0.12, 0.12, 0.14, 0.161, 0.158, 0.165, 0.171, 0.178, 0.191, 0.181, 0.195, 0.191, 0.185]
D_S2_BX = [0, 0.12, 0.3, 0.5, 0.75, 1.0, 1.3, 1.6, 1.8, 2.0, 2.3, 2.5, 2.8, 3.0, 3.3, 3.6, 3.8, 4.0]
D_S2_LO = [0.091, 0.078, 0.066, 0.056, 0.046, 0.038, 0.033, 0.035, 0.032, 0.035, 0.08, 0.1, 0.11, 0.09, 0.11, 0.13, 0.12, 0.12]
D_S2_HI = [0.091, 0.082, 0.07, 0.06, 0.05, 0.042, 0.04, 0.048, 0.045, 0.07, 0.17, 0.2, 0.21, 0.19, 0.24, 0.25, 0.26, 0.28]

D_S3_X = [0, 0.12, 0.3, 0.5, 0.75, 1.0, 1.28, 1.37, 1.5, 1.59, 1.72, 1.84, 2.0, 2.1, 2.22, 2.35, 2.5, 2.63, 2.73, 2.82,
          2.92, 3.0, 3.1, 3.2, 3.29, 3.39, 3.49, 3.58, 3.67, 3.77, 3.86, 3.93, 4.0]
D_S3_Y = [0.091, 0.08, 0.068, 0.058, 0.048, 0.04, 0.039, 0.049, 0.052, 0.066, 0.063, 0.069, 0.063, 0.086, 0.083, 0.1, 0.114, 0.12, 0.14, 0.147,
          0.14, 0.154, 0.181, 0.212, 0.208, 0.195, 0.198, 0.181, 0.168, 0.164, 0.14, 0.15, 0.174]
D_S3_BX = [0, 0.12, 0.3, 0.5, 0.75, 1.0, 1.3, 1.6, 2.0, 2.3, 2.6, 2.9, 3.2, 3.5, 3.8, 4.0]
D_S3_LO = [0.091, 0.078, 0.066, 0.056, 0.046, 0.038, 0.035, 0.05, 0.05, 0.07, 0.09, 0.11, 0.15, 0.14, 0.11, 0.12]
D_S3_HI = [0.091, 0.082, 0.07, 0.06, 0.05, 0.042, 0.045, 0.08, 0.085, 0.13, 0.16, 0.19, 0.24, 0.24, 0.22, 0.24]

D_S4_X = [0, 0.12, 0.3, 0.5, 0.7, 0.74, 1.0, 1.2, 1.5, 1.8, 2.15, 2.5, 2.79, 3.0, 3.2, 3.42, 3.61, 3.8, 4.0]
D_S4_Y = [0.091, 0.08, 0.068, 0.058, 0.05, 0.062, 0.05, 0.046, 0.04, 0.05, 0.073, 0.086, 0.1, 0.107, 0.124, 0.127, 0.13, 0.12, 0.127]
D_S4_LO = [0.091, 0.079, 0.066, 0.056, 0.048, 0.055, 0.044, 0.041, 0.035, 0.04, 0.055, 0.065, 0.075, 0.08, 0.095, 0.1, 0.1, 0.095, 0.1]
D_S4_HI = [0.091, 0.081, 0.07, 0.06, 0.052, 0.07, 0.056, 0.051, 0.046, 0.065, 0.09, 0.11, 0.125, 0.135, 0.155, 0.155, 0.16, 0.15, 0.155]

D_LOW_X = [0, 0.12, 0.3, 0.5, 0.75, 1.0, 1.5, 2.0, 2.5, 3.0, 3.5, 4.0]
D_S5_Y = [0.091, 0.08, 0.07, 0.06, 0.048, 0.038, 0.022, 0.015, 0.011, 0.009, 0.009, 0.009]
D_S5_LO = [0.091, 0.078, 0.067, 0.057, 0.045, 0.035, 0.02, 0.013, 0.009, 0.007, 0.007, 0.007]
D_S5_HI = [0.091, 0.082, 0.074, 0.063, 0.051, 0.041, 0.025, 0.017, 0.013, 0.011, 0.011, 0.011]
D_S6_Y = [0.091, 0.081, 0.072, 0.061, 0.049, 0.039, 0.023, 0.016, 0.012, 0.01, 0.01, 0.01]
D_S6_LO = [0.091, 0.079, 0.068, 0.058, 0.046, 0.036, 0.021, 0.014, 0.01, 0.008, 0.008, 0.008]
D_S6_HI = [0.091, 0.083, 0.082, 0.066, 0.052, 0.042, 0.026, 0.018, 0.014, 0.012, 0.012, 0.012]
D_S7_Y = [0.091, 0.08, 0.069, 0.059, 0.047, 0.037, 0.021, 0.015, 0.011, 0.01, 0.011, 0.011]
D_S7_LO = [0.091, 0.078, 0.066, 0.056, 0.044, 0.034, 0.019, 0.013, 0.009, 0.008, 0.009, 0.009]
D_S7_HI = [0.091, 0.082, 0.072, 0.062, 0.05, 0.04, 0.024, 0.017, 0.013, 0.012, 0.013, 0.013]

D_S8_X = [0, 0.12, 0.3, 0.5, 0.75, 1.0, 1.3, 1.4, 1.72, 1.84, 1.9, 2.0, 2.06, 2.1, 2.16, 2.24, 2.32, 2.44, 2.54, 2.63,
          2.73, 2.82, 2.92, 2.98, 3.1, 3.23, 3.36, 3.49, 3.61, 3.74, 3.86, 4.0]
D_S8_Y = [0.091, 0.08, 0.068, 0.058, 0.048, 0.04, 0.036, 0.045, 0.052, 0.056, 0.069, 0.093, 0.113, 0.13, 0.13, 0.158, 0.151, 0.147, 0.134, 0.147,
          0.14, 0.147, 0.14, 0.158, 0.144, 0.14, 0.144, 0.137, 0.144, 0.13, 0.134, 0.144]
D_S8_BX = [0, 0.12, 0.3, 0.5, 0.75, 1.0, 1.4, 1.7, 1.9, 2.0, 2.2, 2.5, 2.8, 3.1, 3.4, 3.7, 4.0]
D_S8_LO = [0.091, 0.078, 0.066, 0.056, 0.046, 0.038, 0.04, 0.045, 0.055, 0.08, 0.11, 0.12, 0.12, 0.12, 0.115, 0.11, 0.11]
D_S8_HI = [0.091, 0.082, 0.07, 0.06, 0.05, 0.042, 0.05, 0.06, 0.085, 0.11, 0.2, 0.17, 0.18, 0.175, 0.17, 0.165, 0.18]

D_S9_X = [0, 0.12, 0.17, 0.23, 0.3, 0.36, 0.42, 0.5, 0.58, 0.64, 0.71, 0.75, 0.8, 0.86, 0.93, 1.0, 1.05, 1.12, 1.21, 1.28,
          1.34, 1.4, 1.46, 1.5, 1.56, 1.62, 1.69, 1.75, 1.84, 1.91, 1.97, 2.02, 2.08, 2.14, 2.21, 2.25, 2.3, 2.35, 2.44, 2.5,
          2.57, 2.63, 2.7, 2.76, 2.82, 2.92, 2.98, 3.04, 3.1, 3.2, 3.26, 3.33, 3.39, 3.45, 3.52, 3.58, 3.67, 3.77, 3.83, 3.9,
          3.96, 4.0]
D_S9_Y = [0.091, 0.08, 0.147, 0.201, 0.212, 0.249, 0.29, 0.358, 0.412, 0.453, 0.5, 0.507, 0.541, 0.581, 0.609, 0.656, 0.66, 0.67, 0.69, 0.689,
          0.683, 0.69, 0.689, 0.694, 0.667, 0.67, 0.667, 0.656, 0.619, 0.629, 0.595, 0.605, 0.588, 0.534, 0.493, 0.486, 0.5, 0.466, 0.453, 0.439,
          0.422, 0.422, 0.405, 0.378, 0.344, 0.337, 0.324, 0.32, 0.296, 0.276, 0.259, 0.262, 0.252, 0.256, 0.249, 0.252, 0.262, 0.266, 0.276, 0.256,
          0.239, 0.222]
D_S9_BX = [0, 0.12, 0.2, 0.3, 0.5, 0.7, 0.9, 1.0, 1.2, 1.3, 1.5, 1.7, 1.9, 2.1, 2.3, 2.5, 2.7, 2.9, 3.1, 3.3, 3.5, 3.65, 3.8, 3.9, 4.0]
D_S9_LO = [0.091, 0.078, 0.16, 0.2, 0.34, 0.48, 0.58, 0.62, 0.645, 0.63, 0.66, 0.63, 0.59, 0.54, 0.46, 0.41, 0.37, 0.3, 0.27, 0.22, 0.2, 0.21, 0.2, 0.17, 0.15]
D_S9_HI = [0.091, 0.082, 0.19, 0.225, 0.37, 0.53, 0.63, 0.68, 0.72, 0.74, 0.72, 0.70, 0.67, 0.63, 0.54, 0.48, 0.45, 0.38, 0.35, 0.31, 0.32, 0.34, 0.365, 0.33, 0.29]

D_SP_X = [0, 0.12, 0.23, 0.26, 0.33, 0.39, 0.5, 0.64, 0.8, 1.0, 1.21, 1.5, 1.53, 2.0, 2.5, 3.0, 4.0]
D_SP_Y = [0.091, 0.081, 0.073, 0.074, 0.069, 0.073, 0.06, 0.048, 0.04, 0.033, 0.026, 0.018, 0.021, 0.014, 0.01, 0.008, 0.007]
D_SP_LO = [0.091, 0.078, 0.07, 0.071, 0.066, 0.07, 0.057, 0.045, 0.037, 0.03, 0.023, 0.015, 0.018, 0.011, 0.008, 0.006, 0.005]
D_SP_HI = [0.091, 0.084, 0.076, 0.077, 0.072, 0.076, 0.063, 0.051, 0.043, 0.036, 0.029, 0.021, 0.024, 0.017, 0.012, 0.01, 0.009]

# ------------- series per panel: (key, line x, line y, band x, band lo, band hi) -------------
PANEL_SERIES = [
    [
        (0, A_S0_X, A_S0_Y, A_S0_X, A_S0_LO, A_S0_HI),
        (1, A_S1_X, A_S1_Y, A_S1_X, A_S1_LO, A_S1_HI),
        (2, A_S2_X, A_S2_Y, A_S2_X, A_S2_LO, A_S2_HI),
        (3, A_S3_X, A_S3_Y, A_S3_X, A_S3_LO, A_S3_HI),
        (4, A_S4_X, A_S4_Y, A_S4_X, A_S4_LO, A_S4_HI),
        (5, A_S5_X, A_S5_Y, A_S5_BX, A_S5_LO, A_S5_HI),
        (6, A_S6_X, A_S6_Y, A_S6_X, A_S6_LO, A_S6_HI),
        (7, A_S7_X, A_S7_Y, A_S7_X, A_S7_LO, A_S7_HI),
        (8, A_S8_X, A_S8_Y, A_S8_X, A_S8_LO, A_S8_HI),
        (9, A_S9_X, A_S9_Y, A_S9_BX, A_S9_LO, A_S9_HI),
        ('sp', A_SP_X, A_SP_Y, A_SP_X, A_SP_LO, A_SP_HI),
    ],
    [
        (0, B_BASE_X, B_BASE_Y, B_BASE_X, B_BASE_LO, B_BASE_HI),
        (1, B_BASE_X, B_BASE_Y, B_BASE_X, B_BASE_LO, B_BASE_HI),
        (2, B_BASE_X, B_BASE_Y, B_BASE_X, B_BASE_LO, B_BASE_HI),
        (3, B_S3_X, B_S3_Y, B_S3_BX, B_S3_LO, B_S3_HI),
        (4, B_S4_X, B_S4_Y, B_S4_BX, B_S4_LO, B_S4_HI),
        (5, B_S5_X, B_S5_Y, B_S5_BX, B_S5_LO, B_S5_HI),
        (6, B_S6_X, B_S6_Y, B_S6_X, B_S6_LO, B_S6_HI),
        (7, B_BASE_X, B_BASE_Y, B_BASE_X, B_BASE_LO, B_BASE_HI),
        (8, B_S8_X, B_S8_Y, B_S8_X, B_S8_LO, B_S8_HI),
        (9, B_S9_X, B_S9_Y, B_S9_BX, B_S9_LO, B_S9_HI),
        ('sp', B_SP_X, B_SP_Y, B_SP_BX, B_SP_LO, B_SP_HI),
    ],
    [
        (0, C_S0_X, C_S0_Y, C_S0_BX, C_S0_LO, C_S0_HI),
        (1, C_S1_X, C_S1_Y, C_S1_BX, C_S1_LO, C_S1_HI),
        (2, C_S2_X, C_S2_Y, C_S2_BX, C_S2_LO, C_S2_HI),
        (3, C_S3_X, C_S3_Y, C_S3_BX, C_S3_LO, C_S3_HI),
        (4, C_S4_X, C_S4_Y, C_S4_X, C_S4_LO, C_S4_HI),
        (5, C_S5_X, C_S5_Y, C_S5_X, C_S5_LO, C_S5_HI),
        (6, C_S6_X, C_S6_Y, C_S6_X, C_S6_LO, C_S6_HI),
        (7, C_S7_X, C_S7_Y, C_S7_X, C_S7_LO, C_S7_HI),
        (8, C_S8_X, C_S8_Y, C_S8_X, C_S8_LO, C_S8_HI),
        (9, C_S9_X, C_S9_Y, C_S9_BX, C_S9_LO, C_S9_HI),
        ('sp', C_SP_X, C_SP_Y, C_SP_X, C_SP_LO, C_SP_HI),
    ],
    [
        (0, D_S0_X, D_S0_Y, D_S0_BX, D_S0_LO, D_S0_HI),
        (1, D_S1_X, D_S1_Y, D_S1_BX, D_S1_LO, D_S1_HI),
        (2, D_S2_X, D_S2_Y, D_S2_BX, D_S2_LO, D_S2_HI),
        (3, D_S3_X, D_S3_Y, D_S3_BX, D_S3_LO, D_S3_HI),
        (4, D_S4_X, D_S4_Y, D_S4_X, D_S4_LO, D_S4_HI),
        (5, D_LOW_X, D_S5_Y, D_LOW_X, D_S5_LO, D_S5_HI),
        (6, D_LOW_X, D_S6_Y, D_LOW_X, D_S6_LO, D_S6_HI),
        (7, D_LOW_X, D_S7_Y, D_LOW_X, D_S7_LO, D_S7_HI),
        (8, D_S8_X, D_S8_Y, D_S8_BX, D_S8_LO, D_S8_HI),
        (9, D_S9_X, D_S9_Y, D_S9_BX, D_S9_LO, D_S9_HI),
        ('sp', D_SP_X, D_SP_Y, D_SP_X, D_SP_LO, D_SP_HI),
    ],
]

# ---------------- layout geometry (pixels in a 1315x989 canvas) ----------------
W, H = 1315, 989
X_DOMAINS = [[68 / W, 655 / W], [720 / W, 1306 / W], [68 / W, 655 / W], [720 / W, 1306 / W]]
Y_DOMAINS = [[1 - 403 / H, 1 - 8 / H], [1 - 403 / H, 1 - 8 / H], [1 - 894 / H, 1 - 498 / H], [1 - 894 / H, 1 - 498 / H]]
LEGEND_POS = [(80 / W, 1 - 10 / H, 'left'), (1295 / W, 1 - 10 / H, 'right'),
              (80 / W, 1 - 500 / H, 'left'), (1295 / W, 1 - 500 / H, 'right')]
CAPTION_POS = [(333 / W, 1 - 480 / H), (984 / W, 1 - 480 / H), (334 / W, 1 - 971 / H), (984 / W, 1 - 971 / H)]
EXP_POS = [(653 / W, 1 - 441 / H), (1305 / W, 1 - 441 / H), (653 / W, 1 - 931 / H), (1305 / W, 1 - 931 / H)]

SERIF = 'Liberation Serif'
SANS = 'Open Sans'


def rgba(hexc, a):
    h = hexc.lstrip('#')
    return 'rgba(%d,%d,%d,%.3f)' % (int(h[0:2], 16), int(h[2:4], 16), int(h[4:6], 16), a)


fig = go.Figure()

for p, series in enumerate(PANEL_SERIES):
    sfx = '' if p == 0 else str(p + 1)
    xa, ya = 'x' + sfx, 'y' + sfx
    legend_id = 'legend' + sfx
    for key, lx, ly, bx, lo, hi in series:
        color = SELF_PLAY_COLOR if key == 'sp' else SCEN_COLORS[key]
        fig.add_trace(go.Scatter(
            x=list(bx) + list(bx)[::-1], y=list(hi) + list(lo)[::-1],
            fill='toself', fillcolor=rgba(color, 0.2), mode='lines',
            line=dict(width=0, color='rgba(0,0,0,0)'), hoverinfo='skip',
            showlegend=False, xaxis=xa, yaxis=ya))
        name = LEGEND_NAMES.get(key)
        fig.add_trace(go.Scatter(
            x=lx, y=ly, mode='lines',
            line=dict(color=rgba(color, 0.8), width=2),
            name=name if name else 'Scenario %s' % key,
            showlegend=name is not None, legend=legend_id,
            legendgroup='p%d-%s' % (p, key),
            xaxis=xa, yaxis=ya))

layout = dict(
    width=W, height=H, margin=dict(l=0, r=0, t=0, b=0),
    plot_bgcolor='white', paper_bgcolor='white',
    font=dict(family=SANS, color='#222222'),
)

annotations = []
for p in range(4):
    sfx = '' if p == 0 else str(p + 1)
    layout['xaxis' + sfx] = dict(
        domain=X_DOMAINS[p], range=[-0.2, 4.2], anchor='y' + sfx,
        tickvals=X_TICKS, ticktext=X_TICK_TEXT,
        showgrid=True, gridcolor='#e4e4e4', gridwidth=1, zeroline=False,
        showline=True, mirror=True, linecolor='#222222', linewidth=1,
        ticks='outside', ticklen=4, tickcolor='#222222',
        tickfont=dict(family=SERIF, size=17, color='#222222'),
        title=dict(text='Environment steps', font=dict(family=SANS, size=17.5, color='#222222'), standoff=3),
    )
    layout['yaxis' + sfx] = dict(
        domain=Y_DOMAINS[p], range=Y_RANGES[p], anchor='x' + sfx,
        tick0=0, dtick=0.1, tickformat='.1f',
        showgrid=True, gridcolor='#e4e4e4', gridwidth=1, zeroline=False,
        showline=True, mirror=True, linecolor='#222222', linewidth=1,
        ticks='outside', ticklen=4, tickcolor='#222222',
        tickfont=dict(family=SERIF, size=17, color='#222222'),
        title=dict(text='Scenario probability', font=dict(family=SANS, size=17, color='#222222'), standoff=8),
    )
    lx, lyy, anchor = LEGEND_POS[p]
    layout['legend' + sfx] = dict(
        x=lx, y=lyy, xanchor=anchor, yanchor='top',
        bgcolor='rgba(255,255,255,0.85)', bordercolor='#cccccc', borderwidth=1,
        font=dict(family=SANS, size=16.5, color='#222222'),
        itemwidth=48, traceorder='grouped', tracegroupgap=3,
    )
    cx, cy = CAPTION_POS[p]
    annotations.append(dict(
        text='<b>' + CAPTIONS[p] + '</b>', x=cx, y=cy, xref='paper', yref='paper',
        xanchor='center', yanchor='middle', showarrow=False,
        font=dict(family=SERIF, size=21, color='#111111')))
    ex, ey = EXP_POS[p]
    annotations.append(dict(
        text='×10<sup>7</sup>', x=ex, y=ey, xref='paper', yref='paper',
        xanchor='right', yanchor='middle', showarrow=False,
        font=dict(family=SERIF, size=18, color='#222222')))

layout['annotations'] = annotations
fig.update_layout(**layout)

fig.write_html('out.html')
